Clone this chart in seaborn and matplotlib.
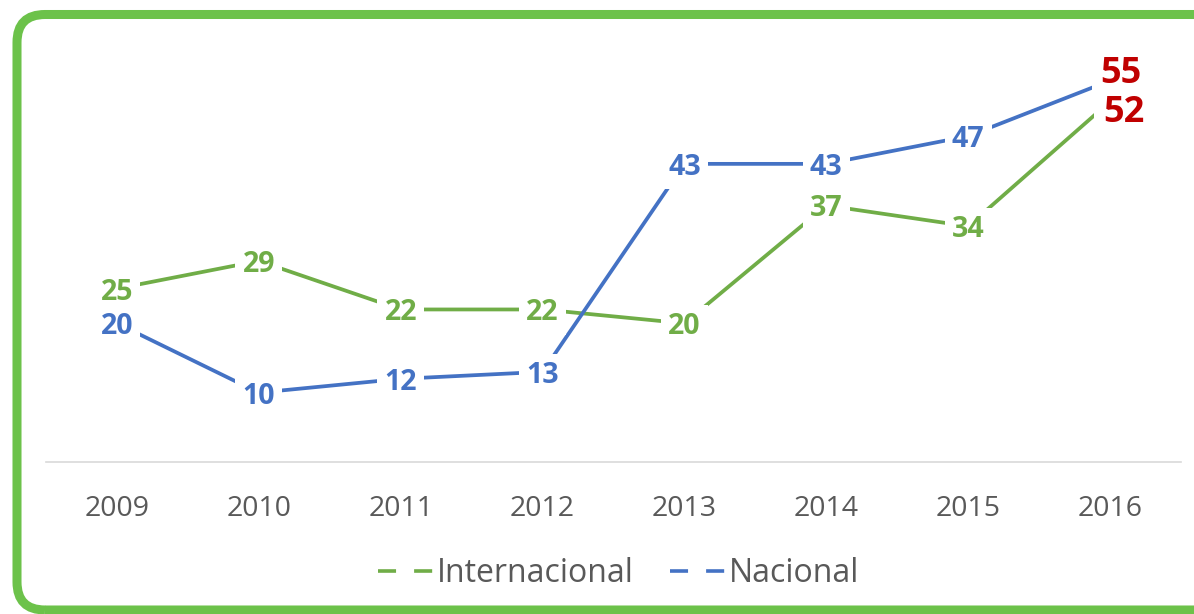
import pandas as pd
import seaborn as sns
import matplotlib.pyplot as plt
from matplotlib.lines import Line2D
from matplotlib.patches import FancyBboxPatch
from matplotlib.transforms import IdentityTransform

# Chart data
years = ["2009", "2010", "2011", "2012", "2013", "2014", "2015", "2016"]
internacional = [25, 29, 22, 22, 20, 37, 34, 52]
nacional = [20, 10, 12, 13, 43, 43, 47, 55]

green = "#70ad47"
blue = "#4472c4"
red = "#c00000"

df = pd.DataFrame({
    "year": years * 2,
    "value": internacional + nacional,
    "serie": ["Internacional"] * len(years) + ["Nacional"] * len(years),
})

sns.set_style("white")
plt.rcParams['font.family'] = ['Open Sans', 'DejaVu Sans']

fig = plt.figure(figsize=(11.94, 6.14), dpi=100)
ax = fig.add_axes([46 / 1194, 1 - 462 / 614, (1181 - 46) / 1194, 416 / 614])

sns.lineplot(data=df, x="year", y="value", hue="serie", sort=False,
             palette={"Internacional": green, "Nacional": blue},
             linewidth=2.7, ax=ax, legend=False)

ax.set_ylim(0, 60)
ax.set_xlim(-0.5, len(years) - 0.5)
ax.set_xlabel("")
ax.set_ylabel("")
ax.set_yticks([])
ax.tick_params(axis="x", length=0, labelsize=20.5, labelcolor="#595959", pad=24)

for side in ["top", "right", "left"]:
    ax.spines[side].set_visible(False)
ax.spines["bottom"].set_color("#d9d9d9")
ax.spines["bottom"].set_linewidth(1.2)

box = dict(boxstyle="square,pad=0.25", facecolor="white", edgecolor="none")

# Data labels, last year highlighted in red and shifted aside
for i, (vi, vn) in enumerate(zip(internacional, nacional)):
    if i == len(years) - 1:
        ax.annotate(str(vn), (i, vn), xytext=(8, 5), textcoords="offset points",
                    ha="center", va="center", color=red, fontsize=26,
                    fontweight="bold", bbox=box, zorder=5)
        ax.annotate(str(vi), (i, vi), xytext=(10, -8), textcoords="offset points",
                    ha="center", va="center", color=red, fontsize=26,
                    fontweight="bold", bbox=box, zorder=5)
        continue
    ax.annotate(str(vi), (i, vi), xytext=(0, -2.5), textcoords="offset points",
                ha="center", va="center", color=green, fontsize=20.5,
                fontweight="bold", bbox=box, zorder=5)
    ax.annotate(str(vn), (i, vn), xytext=(0, -2.5), textcoords="offset points",
                ha="center", va="center", color=blue, fontsize=20.5,
                fontweight="bold", bbox=box, zorder=5)

# Legend with dashed handles
handles = [Line2D([], [], color=green, lw=2.6, ls=(0, (5, 5))),
           Line2D([], [], color=blue, lw=2.6, ls=(0, (5, 5)))]
fig.legend(handles, ["Internacional", "Nacional"], loc="center",
           bbox_to_anchor=(0.518, 1 - 574 / 614), ncol=2, frameon=False,
           fontsize=23, handlelength=1.72, handletextpad=0.12,
           columnspacing=1.15, labelcolor="#595959")

# Rounded green frame (pixel coordinates)
frame = FancyBboxPatch((17, 4), 1210, 595.5,
                       boxstyle="round,pad=0,rounding_size=28",
                       transform=IdentityTransform(), facecolor="none",
                       edgecolor="#6cc24a", linewidth=6.5, zorder=10)
fig.patches.append(frame)

plt.savefig("out.png", dpi=100)
